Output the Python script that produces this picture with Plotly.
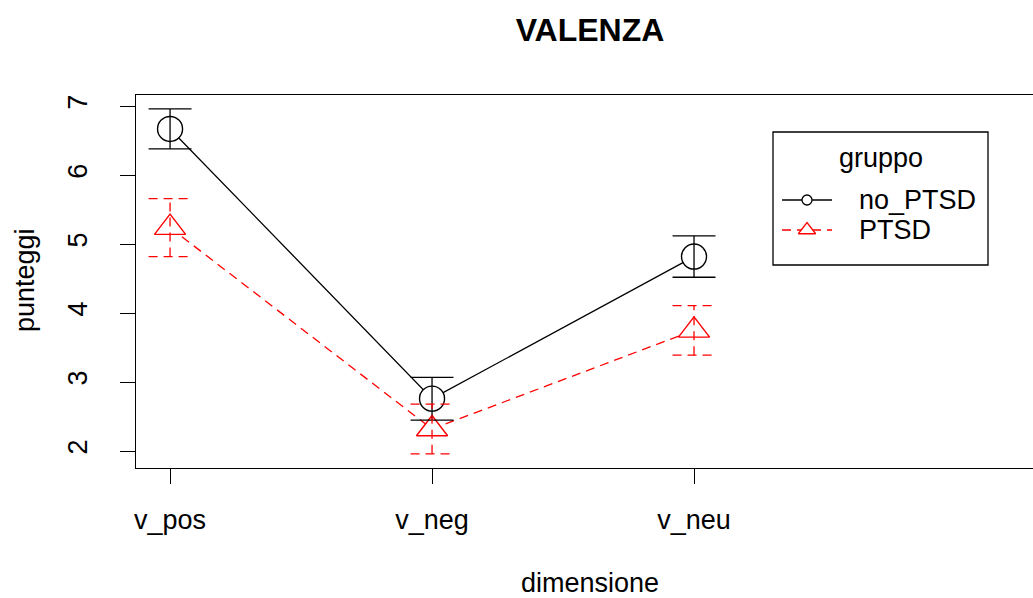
import plotly.graph_objects as go

# Mean scores per dimension and group, with half-width of the error bars
categories = ["v_pos", "v_neg", "v_neu"]
groups = ["no_PTSD", "PTSD"]
mean_no_ptsd = [6.67, 2.76, 4.82]
err_no_ptsd = [0.29, 0.31, 0.30]
mean_ptsd = [5.24, 2.32, 3.75]
err_ptsd = [0.42, 0.36, 0.36]
y_ticks = [2, 3, 4, 5, 6, 7]
legend_title = "gruppo"

FONT = "Liberation Sans"
x_pos = list(range(1, len(categories) + 1))
CAP = 0.082  # half-width of error-bar caps, in category units

W, H = 1033, 598
L, T, B = 136, 95, 130
pw, ph = W - L, H - T - B


def px_x(p):
    return (p - L) / pw


def px_y(p):
    return (H - B - p) / ph


fig = go.Figure()

styles = {
    "no_PTSD": dict(color="black", dash="solid", symbol="circle", size=25, key=10),
    "PTSD": dict(color="red", dash="9px,6px", symbol="triangle-up", size=27, key=15),
}
series = {"no_PTSD": (mean_no_ptsd, err_no_ptsd), "PTSD": (mean_ptsd, err_ptsd)}

# lines + point symbols (white fill leaves a gap in the line around each point)
for g in groups:
    m, _ = series[g]
    s = styles[g]
    fig.add_trace(go.Scatter(
        x=x_pos, y=m, name=g, mode="lines+markers", showlegend=False,
        line=dict(color=s["color"], width=1.3, dash=s["dash"]),
        marker=dict(symbol=s["symbol"], size=s["size"], color="white",
                    line=dict(color=s["color"], width=1.4)),
    ))

# error bars drawn as line segments so the PTSD ones can be dashed
for g in groups:
    m, e = series[g]
    s = styles[g]
    xs, ys = [], []
    for xi, mi, ei in zip(x_pos, m, e):
        lo, hi = mi - ei, mi + ei
        xs += [xi, xi, None, xi - CAP, xi + CAP, None, xi - CAP, xi + CAP, None]
        ys += [lo, hi, None, hi, hi, None, lo, lo, None]
    fig.add_trace(go.Scatter(
        x=xs, y=ys, mode="lines", showlegend=False, hoverinfo="skip",
        line=dict(color=s["color"], width=1.3, dash=s["dash"]),
    ))

# legend box drawn on a pixel-scaled overlay axis pair
LEG_X0, LEG_X1, LEG_Y0, LEG_Y1 = 773, 988, 132, 265
KEY_X0, KEY_X1, TEXT_X = 782, 832, 857
ROW_Y = [200, 230]
for g, ry in zip(groups, ROW_Y):
    s = styles[g]
    fig.add_trace(go.Scatter(
        x=[KEY_X0, KEY_X1], y=[ry, ry], xaxis="x2", yaxis="y2", mode="lines",
        showlegend=False, hoverinfo="skip",
        line=dict(color=s["color"], width=1.3, dash=s["dash"]),
    ))
    fig.add_trace(go.Scatter(
        x=[(KEY_X0 + KEY_X1) / 2], y=[ry], xaxis="x2", yaxis="y2", mode="markers",
        showlegend=False, hoverinfo="skip",
        marker=dict(symbol=s["symbol"], size=s["key"], color="white",
                    line=dict(color=s["color"], width=1.3)),
    ))

annotations = [
    dict(text="punteggi", x=px_x(25), y=px_y(280), xref="paper", yref="paper",
         textangle=-90, showarrow=False, xanchor="center", yanchor="middle"),
    dict(text="dimensione", x=px_x(590), y=px_y(583), xref="paper", yref="paper",
         showarrow=False, xanchor="center", yanchor="middle"),
    dict(text=legend_title, x=px_x((LEG_X0 + LEG_X1) / 2), y=px_y(158),
         xref="paper", yref="paper", showarrow=False,
         xanchor="center", yanchor="middle"),
]
for g, ry in zip(groups, ROW_Y):
    annotations.append(dict(text=g, x=px_x(TEXT_X), y=px_y(ry), xref="paper",
                            yref="paper", showarrow=False,
                            xanchor="left", yanchor="middle"))

fig.update_layout(
    width=W, height=H,
    margin=dict(l=L, r=0, t=T, b=B),
    paper_bgcolor="white", plot_bgcolor="white",
    font=dict(family=FONT, size=27, color="black"),
    title=dict(text="<b>VALENZA</b>", x=px_x(590), xref="paper", xanchor="center",
               y=1 - 30 / H, yref="container", yanchor="middle",
               font=dict(family=FONT, size=32, color="black")),
    showlegend=False,
    xaxis=dict(
        range=[0.870, 1 + (W - 170) / 262],
        tickvals=x_pos, ticktext=categories,
        showline=True, mirror=True, linecolor="black", linewidth=1.3,
        ticks="outside", ticklen=15, tickwidth=1.3, tickcolor="black",
        ticklabelstandoff=12,
        showgrid=False, zeroline=False,
    ),
    yaxis=dict(
        range=[1.755, 7.162],
        tickvals=y_ticks, tickangle=-90,
        showline=True, mirror=False, linecolor="black", linewidth=1.3,
        ticks="outside", ticklen=15, tickwidth=1.3, tickcolor="black",
        ticklabelstandoff=22,
        showgrid=False, zeroline=False,
    ),
    xaxis2=dict(overlaying="x", range=[L, W], visible=False, fixedrange=True),
    yaxis2=dict(overlaying="y", range=[H - B, T], visible=False, fixedrange=True),
    shapes=[dict(type="rect", xref="paper", yref="paper",
                 x0=px_x(LEG_X0), x1=px_x(LEG_X1), y0=px_y(LEG_Y1), y1=px_y(LEG_Y0),
                 line=dict(color="black", width=1.3), fillcolor="rgba(0,0,0,0)")],
    annotations=annotations,
)

fig.write_html("out.html")
